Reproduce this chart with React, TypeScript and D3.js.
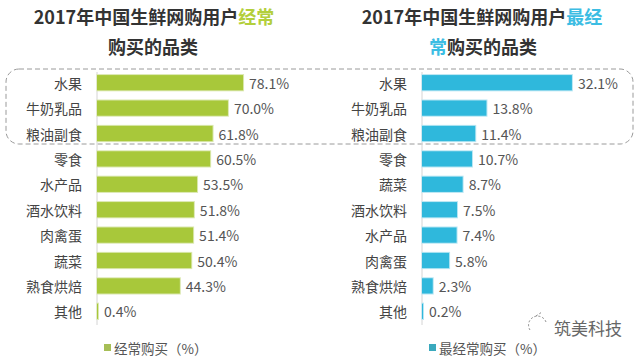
import * as d3 from "d3";

const W = 640;
const H = 359;
const FONT = "'Noto Sans CJK SC', 'Noto Sans', sans-serif";

const leftCategories = ["水果", "牛奶乳品", "粮油副食", "零食", "水产品", "酒水饮料", "肉禽蛋", "蔬菜", "熟食烘焙", "其他"];
const leftValues = [78.1, 70.0, 61.8, 60.5, 53.5, 51.8, 51.4, 50.4, 44.3, 0.4];

const rightCategories = ["水果", "牛奶乳品", "粮油副食", "零食", "蔬菜", "酒水饮料", "水产品", "肉禽蛋", "熟食烘焙", "其他"];
const rightValues = [32.1, 13.8, 11.4, 10.7, 8.7, 7.5, 7.4, 5.8, 2.3, 0.2];

const GREEN = "#a8c83a";
const CYAN = "#2fb8dc";

interface PanelProps {
  categories: string[];
  values: number[];
  axisX: number;
  pxPerPct: number;
  color: string;
  glow: string;
  legendColor: string;
  legendLabel: string;
}

function Panel({ categories, values, axisX, pxPerPct, color, glow, legendColor, legendLabel }: PanelProps) {
  const x = d3.scaleLinear().domain([0, 100]).range([axisX, axisX + pxPerPct * 100]);
  const y = d3
    .scaleBand<string>()
    .domain(categories.map((c, i) => `${i}`))
    .range([70, 324])
    .paddingInner(0.4)
    .paddingOuter(0.2);

  return (
    <g>
      <line x1={axisX} x2={axisX} y1={72} y2={325} stroke="#d4d4d4" strokeWidth={1} />
      {values.map((v, i) => {
        const y0 = y(`${i}`) ?? 0;
        const w = Math.max(1, x(v) - x(0));
        return (
          <g key={i}>
            <rect x={x(0) - 0.5} y={y0 - 1} width={w + 1.5} height={y.bandwidth() + 2} fill={glow} />
            <rect x={x(0)} y={y0} width={w} height={y.bandwidth()} fill={color} />
            <text
              x={x(0) - 15}
              y={y0 + y.bandwidth() / 2}
              textAnchor="end"
              dominantBaseline="central"
              fontSize={14}
              fill="#444"
            >
              {categories[i]}
            </text>
            <text
              x={x(0) + w + 6}
              y={y0 + y.bandwidth() / 2}
              dominantBaseline="central"
              fontSize={14}
              fill="#555"
            >
              {v.toFixed(1)}%
            </text>
          </g>
        );
      })}
      <rect x={axisX + 7} y={344} width={7} height={7} fill={legendColor} />
      <text x={axisX + 17} y={348} dominantBaseline="central" fontSize={13.5} fill="#555">
        {legendLabel}
      </text>
    </g>
  );
}

export default function App() {
  return (
    <div style={{ position: "fixed", left: 0, top: 0, background: "#fff" }}>
      <svg width={W} height={H} style={{ display: "block", fontFamily: FONT }}>
        <rect width={W} height={H} fill="#fff" />
        <defs>
          <filter id="glowG" x="-20%" y="-40%" width="140%" height="180%">
            <feGaussianBlur stdDeviation="1.5" />
          </filter>
        </defs>

        {/* titles */}
        <g fontSize={18} fontWeight="bold" fill="#333" textAnchor="middle">
          <text x={154} y={24}>
            2017年中国生鲜网购用户<tspan fill="#b3cf3c">经常</tspan>
          </text>
          <text x={153} y={54}>购买的品类</text>
          <text x={482} y={24}>
            2017年中国生鲜网购用户<tspan fill="#3cbde3">最经</tspan>
          </text>
          <text x={483} y={54}>
            <tspan fill="#3cbde3">常</tspan>购买的品类
          </text>
        </g>

        {/* highlight box for top 3 */}
        <rect
          x={6}
          y={69}
          width={627}
          height={75}
          rx={13}
          fill="none"
          stroke="#9a9a9a"
          strokeWidth={1}
          strokeDasharray="5 3"
        />

        <Panel
          categories={leftCategories}
          values={leftValues}
          axisX={97}
          pxPerPct={1.87}
          color={GREEN}
          glow="#dbe8b0"
          legendColor="#a6be56"
          legendLabel="经常购买（%）"
        />
        <Panel
          categories={rightCategories}
          values={rightValues}
          axisX={422}
          pxPerPct={4.67}
          color={CYAN}
          glow="#b8e6f3"
          legendColor="#3aa9bd"
          legendLabel="最经常购买（%）"
        />

        {/* watermark */}
        <g stroke="#888" strokeWidth={1} fill="none" strokeDasharray="2 2">
          <path d="M 530 330 A 9 9 0 1 1 546 322" />
          <path d="M 536 316 L 542 312" />
        </g>
        <text x={554} y={327} dominantBaseline="central" fontSize={17} fill="#666">
          筑美科技
        </text>
      </svg>
    </div>
  );
}
